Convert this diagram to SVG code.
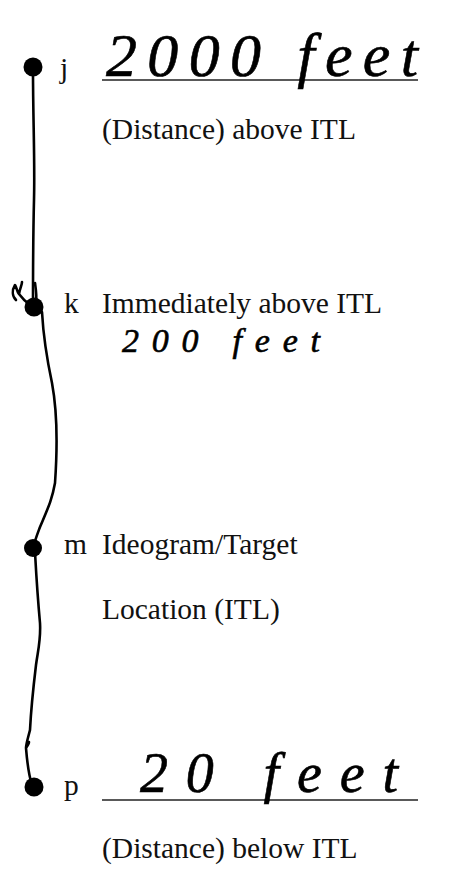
<svg xmlns="http://www.w3.org/2000/svg" width="465" height="877" viewBox="0 0 465 877">
<style>
.t{font-family:"Liberation Serif","Times New Roman",serif;font-size:29.5px;fill:#111}
.h{font-family:"Liberation Serif",serif;font-style:italic;fill:#000;stroke:#000;stroke-width:0.6}
.dot{fill:#000}
.ul{stroke:#222;stroke-width:1.5}
.ln{fill:none;stroke:#000;stroke-width:2.6;stroke-linecap:round;stroke-linejoin:round}
</style>
<rect width="465" height="877" fill="#fff"/>
<g id="connectors">
<path class="ln" d="M33,70 C33,120 35,160 34,200 C33,240 33,280 33,305"/>
<path class="ln" d="M35,283 C36,290 37,296 36,303"/>
<path class="ln" d="M16,300 C12,296 12,290 15,285 C17,288 17,292 19,294 C20,288 22,285 22,282 M19,294 C22,298 26,302 30,305"/>
<path class="ln" d="M42,312 C43,330 45,350 52,383 C57,410 58,440 55,483 C52,500 48,508 40,527 C37,535 35,540 33,548"/>
<path class="ln" d="M35,552 C36,570 37,590 40,623 C41,640 38,650 36,665 C33,690 31,710 30,730 C28,738 26,744 26,748 C28,745 29,743 29,742 M26,748 C27,760 28,773 32,785"/>
</g>
<g id="node-j">
<circle class="dot" cx="33" cy="67" r="9.5"/>
<text class="t" x="60" y="78">j</text>
<line class="ul" x1="102" y1="80" x2="418" y2="80"/>
<text class="h" x="106" y="76" font-size="62" textLength="312" lengthAdjust="spacing">2000 feet</text>
<text class="t" x="102" y="139">(Distance) above ITL</text>
</g>
<g id="node-k">
<circle class="dot" cx="34" cy="307" r="9.5"/>
<text class="t" x="64" y="313">k</text>
<text class="t" x="102" y="313">Immediately above ITL</text>
<text class="h" x="122" y="352" font-size="34" textLength="198" lengthAdjust="spacing">200 feet</text>
</g>
<g id="node-m">
<circle class="dot" cx="33" cy="548" r="9"/>
<text class="t" x="64" y="554">m</text>
<text class="t" x="102" y="554">Ideogram/Target</text>
<text class="t" x="102" y="619">Location (ITL)</text>
</g>
<g id="node-p">
<circle class="dot" cx="34" cy="787" r="9.5"/>
<text class="t" x="64" y="795">p</text>
<line class="ul" x1="102" y1="800" x2="418" y2="800"/>
<text class="h" x="140" y="792" font-size="56" textLength="258" lengthAdjust="spacing">20 feet</text>
<text class="t" x="102" y="858">(Distance) below ITL</text>
</g>
</svg>
